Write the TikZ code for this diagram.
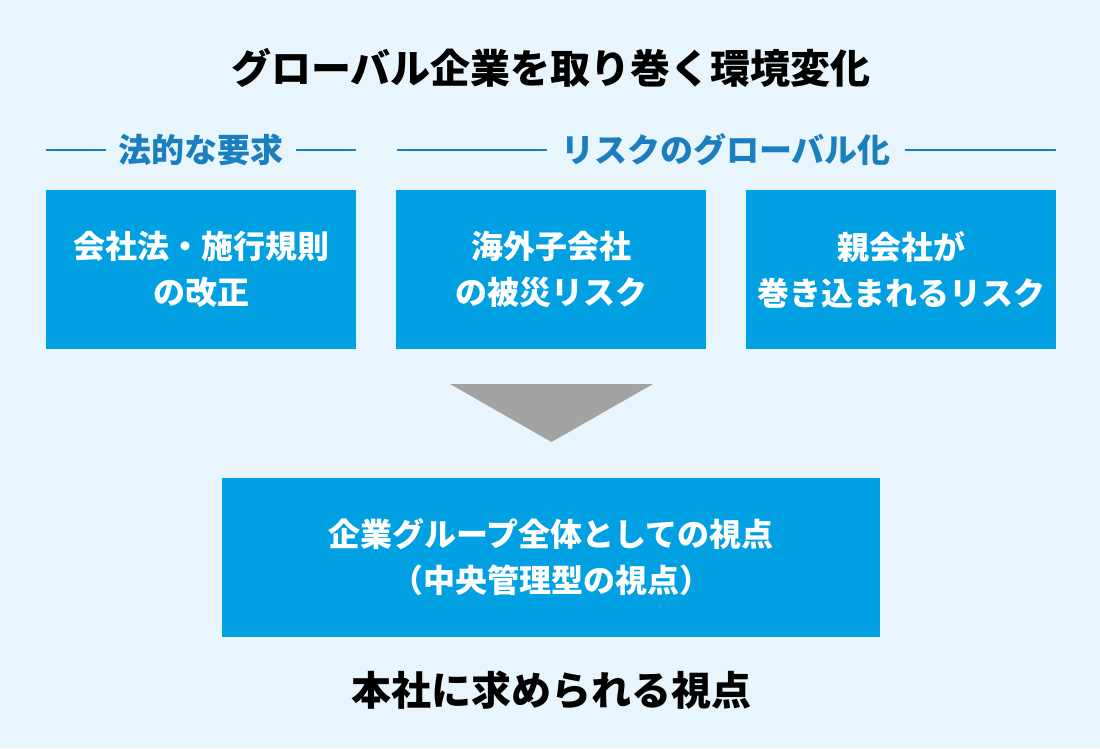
\documentclass[tikz,border=0pt]{standalone}
\usepackage{fontspec}
\setmainfont{Noto Sans CJK JP}
\definecolor{bg}{HTML}{E8F5FC}
\definecolor{boxblue}{HTML}{00A0E2}
\definecolor{headblue}{HTML}{1A7EBF}
\definecolor{trigray}{HTML}{A3A3A3}
\begin{document}
\begin{tikzpicture}[x=1pt,y=-1pt,
  bluebox/.style={fill=boxblue,text=white,align=center,inner sep=0pt,
    font=\fontsize{32}{46}\selectfont\bfseries},
  headtext/.style={text=headblue,inner sep=0pt,font=\fontsize{33}{38}\selectfont\bfseries},
  headline/.style={draw=headblue,line width=1.3pt},
  bigtext/.style={text=black,inner sep=0pt,font=\fontsize{40}{46}\selectfont\bfseries}]
\useasboundingbox[fill=bg] (0,0) rectangle (1100,748);
\node[bigtext] (title) at (551,68) {グローバル企業を取り巻く環境変化};
% headers
\node[headtext] (h1) at (201,150) {法的な要求};
\coordinate (h1a) at (46,150);
\coordinate (h1b) at (356,150);
\draw[headline] (h1a) -- ([xshift=-12pt]h1.west);
\draw[headline] ([xshift=12pt]h1.east) -- (h1b);
\node[headtext] (h2) at (726,150) {リスクのグローバル化};
\coordinate (h2a) at (397,150);
\coordinate (h2b) at (1056,150);
\draw[headline] (h2a) -- ([xshift=-14pt]h2.west);
\draw[headline] ([xshift=14pt]h2.east) -- (h2b);
% boxes
\node[bluebox,minimum width=310pt,minimum height=159pt] (b1) at (201,269.5) {会社法・施行規則\\の改正};
\node[bluebox,minimum width=310pt,minimum height=159pt] (b2) at (551,269.5) {海外子会社\\の被災リスク};
\node[bluebox,minimum width=310pt,minimum height=159pt] (b3) at (901,269.5) {親会社が\\巻き込まれるリスク};
% triangle
\coordinate (t1) at (450,384);
\coordinate (t2) at (653,384);
\coordinate (t3) at (551.5,442);
\fill[trigray] (t1) -- (t2) -- (t3) -- cycle;
% big box
\node[bluebox,minimum width=658pt,minimum height=159pt] (b4) at (551,557.5) {企業グループ全体としての視点\\（中央管理型の視点）};
\node[bigtext] (bottom) at (551,690) {本社に求められる視点};
\end{tikzpicture}
\end{document}
